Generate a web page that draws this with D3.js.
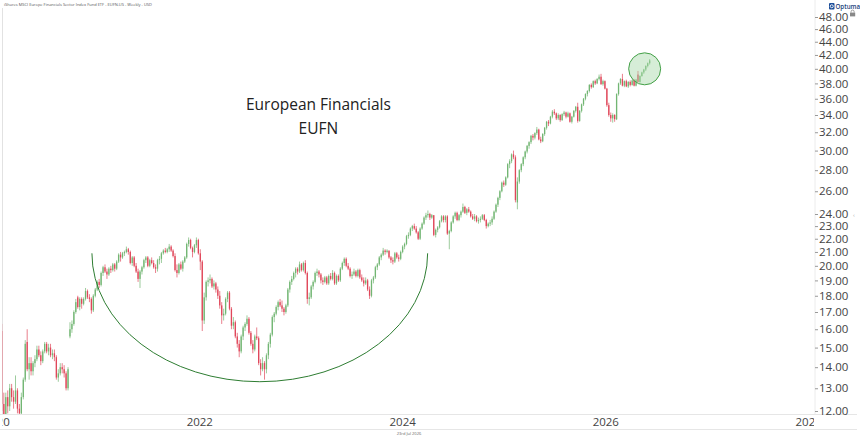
<!DOCTYPE html>
<html>
<head>
<meta charset="utf-8">
<script src="https://cdn.jsdelivr.net/npm/d3@7"></script>
<style>
  body { margin: 0; background: #fff; }
  svg { display: block; font-family: "Open Sans", sans-serif; }
</style>
</head>
<body>
<div id="chart"></div>
<script>
// weekly candles, first bar is the week of 2 Mar 2020
var firstWeek = "2020-03-02";

var opens = [
  17.0,15.9,12.3,11.1,12.6,12.2,13.0,12.6,12.4,12.9,
  12.1,11.9,12.6,13.4,15.3,13.9,14.2,13.8,14.2,14.4,
  14.9,14.6,14.3,14.8,15.2,14.8,15.0,14.6,14.7,14.5,
  13.5,13.7,14.0,13.9,13.7,13.0,15.6,16.0,16.3,17.0,
  17.9,17.3,17.8,17.5,17.8,18.3,17.9,17.8,17.1,18.0,
  18.4,18.9,18.7,19.5,19.9,19.6,19.4,19.8,19.7,20.1,
  19.8,20.3,20.8,20.6,20.9,21.0,21.2,21.0,20.2,20.6,
  20.0,19.6,19.1,19.6,19.9,20.4,20.6,20.0,20.4,20.2,
  19.9,19.8,20.4,20.5,20.9,21.1,21.0,21.2,21.4,21.1,
  20.7,19.7,19.5,20.1,19.8,20.3,20.6,21.6,21.9,21.3,
  21.0,21.5,21.9,20.9,20.3,16.5,17.9,18.9,19.0,19.1,
  18.6,18.8,18.4,18.0,17.4,16.8,16.9,17.8,18.2,17.2,
  16.2,16.4,15.6,15.2,14.8,15.6,16.1,16.3,16.6,15.8,
  15.2,14.9,15.6,15.5,14.2,13.9,14.2,13.9,14.6,15.2,
  15.7,16.7,16.9,17.3,17.6,17.4,17.2,17.0,17.4,18.4,
  18.9,19.1,19.5,19.8,19.6,20.1,19.7,20.2,19.5,17.8,
  17.9,18.6,18.9,19.5,19.6,19.4,19.0,18.9,19.2,18.8,
  19.3,19.1,19.5,18.8,19.3,19.0,19.8,20.2,20.5,20.0,
  19.8,19.3,19.4,19.6,19.3,19.7,19.2,19.0,18.8,19.0,
  18.4,18.0,19.0,19.2,19.9,20.1,20.6,20.8,21.1,21.0,
  21.1,20.6,20.4,20.3,20.9,20.6,20.5,21.0,21.4,21.6,
  22.2,22.3,22.8,23.0,22.8,22.5,22.0,22.8,23.2,23.7,
  23.9,24.0,23.7,23.9,22.3,22.7,22.9,23.4,23.8,23.5,
  23.8,22.4,22.6,23.3,23.8,24.1,23.5,23.9,24.2,24.6,
  24.1,24.4,24.2,23.8,23.6,23.8,23.4,23.5,23.6,23.9,
  23.5,23.0,23.2,23.3,23.6,24.2,24.8,25.4,26.0,26.8,
  26.6,27.3,28.6,28.9,29.6,29.3,25.0,26.9,28.0,28.6,
  29.3,29.9,30.5,30.9,31.6,31.4,31.9,32.3,31.2,31.0,
  31.8,32.5,33.2,33.0,33.8,34.4,34.2,33.6,34.0,33.4,
  34.1,34.3,33.8,34.2,33.2,33.8,34.5,35.0,33.3,34.5,
  35.3,36.0,36.6,37.0,37.8,37.5,38.3,38.0,38.6,38.9,
  37.9,38.3,37.3,35.2,34.0,33.6,34.0,33.5,36.6,38.0,
  38.6,37.7,38.3,37.6,38.2,37.8,38.4,37.7,39.2,38.2,
  39.0,39.5,39.9,40.4,40.8
];

var highs = [
  17.4,16.3,12.8,12.8,12.9,13.2,13.2,12.9,13.6,13.0,
  12.3,12.8,13.5,15.4,16.0,14.5,14.5,14.3,14.6,15.1,
  15.1,14.8,14.9,15.3,15.3,15.2,15.2,14.9,14.9,14.6,
  13.9,14.2,14.2,14.1,13.8,14.0,16.4,16.5,17.1,17.8,
  18.0,17.9,17.9,17.9,18.5,18.4,18.1,17.9,18.1,18.5,
  19.0,19.1,19.6,20.0,20.1,19.8,19.9,20.0,20.2,20.2,
  20.4,20.9,21.0,21.0,21.1,21.4,21.3,21.1,20.7,20.7,
  20.2,19.8,19.7,20.0,20.5,20.7,20.7,20.5,20.6,20.4,
  20.1,20.5,20.7,21.0,21.2,21.3,21.3,21.6,21.5,21.2,
  20.9,20.1,20.2,20.3,20.4,20.7,21.7,22.1,22.0,21.4,
  21.6,22.1,22.0,21.2,20.4,18.2,19.0,19.2,19.4,19.2,
  19.0,18.9,18.6,18.3,17.6,17.2,17.9,18.3,18.3,17.3,
  16.7,16.5,15.8,15.4,15.7,16.2,16.4,16.8,16.7,15.9,
  15.4,15.7,16.1,15.6,14.4,14.5,14.3,14.7,15.3,15.8,
  16.8,17.0,17.4,17.7,17.8,17.7,17.3,17.5,18.5,19.0,
  19.3,19.6,19.9,19.9,20.3,20.2,20.3,20.4,19.6,18.2,
  18.7,19.0,19.6,19.8,19.7,19.5,19.2,19.3,19.3,19.4,
  19.5,19.7,19.6,19.4,19.4,19.9,20.3,20.6,20.6,20.2,
  19.9,19.6,19.8,19.7,19.8,19.8,19.4,19.2,19.2,19.1,
  18.6,19.1,19.3,20.0,20.2,20.7,20.9,21.3,21.2,21.2,
  21.1,20.7,20.6,21.0,21.0,20.8,21.1,21.5,21.7,22.3,
  22.5,22.9,23.1,23.2,23.0,22.6,22.9,23.3,23.8,24.1,
  24.3,24.1,24.0,23.9,22.8,23.0,23.5,23.9,23.9,23.9,
  23.9,22.7,23.4,23.9,24.2,24.2,24.0,24.3,24.9,24.7,
  24.5,24.6,24.3,24.0,24.0,23.9,23.7,23.8,24.0,24.0,
  23.6,23.3,23.5,23.8,24.3,24.9,25.5,26.1,26.9,27.0,
  27.4,28.7,29.1,29.7,30.0,29.5,27.3,28.1,28.7,29.4,
  30.0,30.6,31.0,31.7,31.8,32.0,32.6,32.4,31.5,31.9,
  32.6,33.3,33.4,33.9,34.6,34.7,34.3,34.2,34.1,34.2,
  34.5,34.4,34.4,34.3,33.9,34.6,35.1,35.5,34.6,35.4,
  36.1,36.7,37.1,37.9,38.0,38.4,38.5,38.7,39.2,39.3,
  38.5,38.4,37.4,35.5,34.3,34.2,34.1,36.7,38.1,38.7,
  39.3,38.4,38.5,38.3,38.4,38.5,38.6,38.6,39.7,39.1,
  39.6,40.0,40.5,40.9,41.4
];

var lows = [
  15.6,12.0,10.6,10.9,11.9,12.0,12.4,12.1,12.3,11.9,
  11.5,11.8,12.5,13.3,13.8,13.4,13.6,13.6,14.0,14.3,
  14.5,14.1,14.2,14.7,14.7,14.6,14.5,14.4,14.3,13.4,
  13.3,13.6,13.7,13.5,12.9,12.9,15.5,15.8,16.2,16.9,
  17.2,17.1,17.2,17.4,17.7,17.8,17.6,16.9,17.0,17.9,
  18.3,18.5,18.6,19.3,19.5,19.1,19.3,19.5,19.6,19.6,
  19.7,20.2,20.3,20.5,20.7,20.9,20.8,20.1,20.0,19.9,
  19.5,18.9,18.5,19.4,19.8,20.2,19.9,19.9,20.1,19.8,
  19.5,19.6,20.1,20.2,20.8,20.9,20.9,21.0,21.0,20.6,
  19.6,19.2,19.4,19.7,19.6,20.2,20.5,21.4,21.2,20.6,
  20.9,21.3,20.8,19.7,15.9,16.3,17.7,18.6,18.8,18.5,
  18.4,18.2,17.8,17.2,16.3,16.5,16.8,17.6,17.1,16.0,
  16.0,15.5,15.0,14.5,14.7,15.4,15.9,16.2,15.7,15.1,
  14.7,14.8,15.4,14.1,13.6,13.8,13.4,13.7,14.4,15.0,
  15.6,16.4,16.8,17.1,17.3,17.0,16.8,16.9,17.3,18.2,
  18.7,19.0,19.2,19.4,19.5,19.6,19.6,19.4,17.5,17.4,
  17.8,18.4,18.8,19.3,19.2,18.8,18.7,18.8,18.7,18.7,
  19.0,19.0,18.7,18.7,18.9,18.9,19.7,20.0,19.9,19.7,
  19.2,19.1,19.3,19.2,19.2,19.1,18.9,18.6,18.7,18.3,
  17.8,17.9,18.8,19.1,19.7,20.0,20.4,20.7,20.8,20.9,
  20.5,20.2,20.1,20.2,20.5,20.3,20.4,20.9,21.2,21.5,
  22.0,22.2,22.6,22.7,22.4,21.9,21.9,22.7,23.1,23.5,
  23.7,23.5,23.6,22.2,22.1,22.5,22.8,23.3,23.3,23.3,
  22.3,21.2,22.5,23.2,23.6,23.4,23.4,23.7,24.1,24.0,
  23.9,24.1,23.7,23.5,23.4,23.3,23.2,23.3,23.5,23.4,
  22.8,22.9,23.0,23.1,23.5,24.1,24.6,25.2,25.9,26.4,
  26.5,27.2,28.2,28.7,29.1,25.0,24.4,26.7,27.8,28.4,
  29.1,29.7,30.2,30.7,31.1,31.2,31.7,31.1,30.8,30.9,
  31.6,32.3,32.7,32.9,33.6,34.0,33.4,33.4,33.2,33.3,
  33.9,33.6,33.7,33.1,33.0,33.7,34.3,33.1,33.2,34.3,
  35.1,35.8,36.3,36.8,37.3,37.4,37.8,37.9,38.4,37.8,
  37.7,37.2,35.0,33.8,33.2,33.1,33.2,33.4,36.4,37.8,
  37.6,37.5,37.5,37.4,37.6,37.7,37.6,37.6,38.1,38.1,
  38.9,39.3,39.7,40.2,40.6
];

var closes = [
  15.9,12.3,11.1,12.6,12.2,13.0,12.6,12.4,12.9,12.1,
  11.9,12.6,13.4,15.2,13.9,14.2,13.8,14.2,14.4,14.9,
  14.6,14.3,14.8,15.2,14.8,15.0,14.6,14.7,14.5,13.5,
  13.7,14.0,13.9,13.7,13.0,13.9,16.0,16.3,17.0,17.6,
  17.3,17.8,17.5,17.8,18.3,17.9,17.8,17.1,18.0,18.4,
  18.9,18.7,19.5,19.9,19.6,19.4,19.8,19.7,20.1,19.8,
  20.3,20.8,20.6,20.9,21.0,21.2,21.0,20.2,20.6,20.0,
  19.6,19.1,19.6,19.9,20.4,20.6,20.0,20.4,20.2,19.9,
  19.8,20.4,20.5,20.9,21.1,21.0,21.2,21.4,21.1,20.7,
  19.7,19.5,20.1,19.8,20.3,20.6,21.6,21.9,21.3,21.0,
  21.5,21.9,20.9,20.3,16.5,17.9,18.9,19.0,19.1,18.6,
  18.8,18.4,18.0,17.4,16.8,16.9,17.8,18.2,17.2,16.2,
  16.4,15.6,15.2,14.8,15.6,16.1,16.3,16.6,15.8,15.2,
  14.9,15.6,15.5,14.2,13.9,14.2,13.9,14.6,15.2,15.7,
  16.7,16.9,17.3,17.6,17.4,17.2,17.0,17.4,18.4,18.9,
  19.1,19.5,19.8,19.6,20.1,19.7,20.2,19.5,17.8,17.9,
  18.6,18.9,19.5,19.6,19.4,19.0,18.9,19.2,18.8,19.3,
  19.1,19.5,18.8,19.3,19.0,19.8,20.2,20.5,20.0,19.8,
  19.3,19.4,19.6,19.3,19.7,19.2,19.0,18.8,19.0,18.4,
  18.0,19.0,19.2,19.9,20.1,20.6,20.8,21.1,21.0,21.1,
  20.6,20.4,20.3,20.9,20.6,20.5,21.0,21.4,21.6,22.2,
  22.3,22.8,23.0,22.8,22.5,22.0,22.8,23.2,23.7,23.9,
  24.0,23.7,23.9,22.3,22.7,22.9,23.4,23.8,23.5,23.8,
  22.4,22.6,23.3,23.8,24.1,23.5,23.9,24.2,24.6,24.1,
  24.4,24.2,23.8,23.6,23.8,23.4,23.5,23.6,23.9,23.5,
  23.0,23.2,23.3,23.6,24.2,24.8,25.4,26.0,26.8,26.6,
  27.3,28.6,28.9,29.6,29.3,25.2,26.9,28.0,28.6,29.3,
  29.9,30.5,30.9,31.6,31.4,31.9,32.3,31.2,31.0,31.8,
  32.5,33.2,33.0,33.8,34.4,34.2,33.6,34.0,33.4,34.1,
  34.3,33.8,34.2,33.2,33.8,34.5,35.0,33.3,34.5,35.3,
  36.0,36.6,37.0,37.8,37.5,38.3,38.0,38.6,38.9,37.9,
  38.3,37.3,35.2,34.0,33.6,34.0,33.5,36.6,38.0,38.6,
  37.7,38.3,37.6,38.2,37.8,38.4,37.7,38.5,38.2,39.0,
  39.5,39.9,40.4,40.8,41.2
];

var priceTicks = [12,13,14,15,16,17,18,19,20,21,22,23,24,26,28,30,32,34,36,38,40,42,44,46,48];
var yearTicks = ["2020-01-01","2022-01-01","2024-01-01","2026-01-01","2028-01-01"];

var title = "iShares MSCI Europe Financials Sector Index Fund ETF - EUFN.US - Weekly - USD";
var labelLines = ["European Financials", "EUFN"];
var dateStamp = "23rd Jul 2026";

// annotation anchors in chart units (date, price)
var cupLeft = ["2021-01-27", 20.9];
var cupRight = ["2024-05-19", 20.9];
var cupBottom = 13.3;
var labelAt = ["2023-04-22", 34.6];
var circleAt = ["2026-07-09", 40.0];

var width = 860, height = 441;
var plotLeft = 2.5, plotRight = 815, plotTop = 8, plotBottom = 414;

var parse = d3.timeParse("%Y-%m-%d");

var x = d3.scaleTime()
  .domain([parse("2020-01-01"), parse("2028-01-01")])
  .range([-17, 795]);

var y = d3.scaleLog()
  .domain([12, 48])
  .range([411, 17]);

var candles = opens.map(function (o, i) {
  return {
    date: d3.timeDay.offset(parse(firstWeek), 7 * i),
    open: o, high: highs[i], low: lows[i], close: closes[i]
  };
});

var svg = d3.select("#chart")
  .append("svg")
  .attr("width", width)
  .attr("height", height);

var defs = svg.append("defs");
defs.append("clipPath").attr("id", "plotClip")
  .append("rect")
  .attr("x", plotLeft).attr("y", plotTop)
  .attr("width", plotRight - plotLeft).attr("height", plotBottom - plotTop);
defs.append("clipPath").attr("id", "xClip")
  .append("rect")
  .attr("x", plotLeft).attr("y", plotBottom)
  .attr("width", 814 - plotLeft).attr("height", 20);

// frame lines
svg.append("line")
  .attr("x1", plotLeft).attr("x2", plotLeft)
  .attr("y1", plotTop).attr("y2", plotBottom)
  .attr("stroke", "#e2e2e2");
svg.append("line")
  .attr("x1", plotRight).attr("x2", plotRight)
  .attr("y1", 0).attr("y2", plotBottom)
  .attr("stroke", "#ececec");
svg.append("line")
  .attr("x1", 0).attr("x2", 857)
  .attr("y1", plotBottom + 0.5).attr("y2", plotBottom + 0.5)
  .attr("stroke", "#e6e6e6");
svg.append("line")
  .attr("x1", 0).attr("x2", 857)
  .attr("y1", 429.5).attr("y2", 429.5)
  .attr("stroke", "#e6e6e6");

// title
svg.append("text")
  .attr("x", 4).attr("y", 6)
  .style("font-size", "4px")
  .style("fill", "#555")
  .text(title);

// candles
var plot = svg.append("g").attr("clip-path", "url(#plotClip)");
var up = "#72b673", down = "#e0475a";

var bars = plot.selectAll(".candle")
  .data(candles)
  .enter()
  .append("g")
  .classed("candle", true)
  .attr("transform", function (d) { return "translate(" + x(d.date) + ",0)"; });

bars.append("line")
  .attr("x1", 0).attr("x2", 0)
  .attr("y1", function (d) { return y(d.high); })
  .attr("y2", function (d) { return y(d.low); })
  .attr("stroke", function (d) { return d.close >= d.open ? up : down; })
  .attr("stroke-width", 0.7);

bars.append("rect")
  .attr("x", -0.65)
  .attr("width", 1.3)
  .attr("y", function (d) { return y(Math.max(d.open, d.close)); })
  .attr("height", function (d) {
    return Math.max(0.8, y(Math.min(d.open, d.close)) - y(Math.max(d.open, d.close)));
  })
  .attr("fill", function (d) { return d.close >= d.open ? up : down; });

// cup arc
var xl = x(parse(cupLeft[0])), xr = x(parse(cupRight[0]));
var yTop = y(cupLeft[1]);
var rx = (xr - xl) / 2, ry = y(cupBottom) - yTop;
plot.append("path")
  .attr("d", "M" + xl + "," + yTop + " A" + rx + "," + ry + " 0 0 0 " + xr + "," + y(cupRight[1]))
  .attr("fill", "none")
  .attr("stroke", "#2e7d32")
  .attr("stroke-width", 1);

// highlight circle
plot.append("circle")
  .attr("cx", x(parse(circleAt[0])))
  .attr("cy", y(circleAt[1]))
  .attr("r", 16)
  .attr("fill", "#a5d6a7")
  .attr("fill-opacity", 0.45)
  .attr("stroke", "#43a047")
  .attr("stroke-width", 1);

// label
var label = svg.append("text")
  .attr("x", x(parse(labelAt[0])))
  .attr("y", y(labelAt[1]))
  .attr("text-anchor", "middle")
  .style("font-size", "15.5px")
  .style("fill", "#222");
label.selectAll("tspan")
  .data(labelLines)
  .enter()
  .append("tspan")
  .attr("x", x(parse(labelAt[0])))
  .attr("dy", function (d, i) { return i === 0 ? 0 : 24; })
  .text(function (d) { return d; });

// price axis
var yAxis = svg.append("g")
  .attr("transform", "translate(" + plotRight + ",0)")
  .call(d3.axisRight(y)
    .tickValues(priceTicks)
    .tickFormat(d3.format(".2f"))
    .tickSize(3)
    .tickPadding(1));
yAxis.select(".domain").remove();
yAxis.selectAll("line").attr("stroke", "#999");
yAxis.selectAll("text")
  .style("font-size", "11.5px")
  .style("fill", "#444")
  .style("font-family", "'Open Sans', sans-serif");

// year axis
var xAxis = svg.append("g")
  .attr("clip-path", "url(#xClip)")
  .append("g")
  .attr("transform", "translate(0," + plotBottom + ")")
  .call(d3.axisBottom(x)
    .tickValues(yearTicks.map(parse))
    .tickFormat(d3.timeFormat("%Y"))
    .tickSize(0)
    .tickPadding(4));
xAxis.select(".domain").remove();
xAxis.selectAll("text")
  .attr("text-anchor", "start")
  .style("font-size", "11.5px")
  .style("fill", "#444")
  .style("font-family", "'Open Sans', sans-serif");

// date stamp
svg.append("text")
  .attr("x", 409).attr("y", 435)
  .attr("text-anchor", "middle")
  .style("font-size", "4px")
  .style("fill", "#666")
  .text(dateStamp);

// logo
var logo = svg.append("g").attr("transform", "translate(829,3)");
logo.append("rect")
  .attr("width", 5.5).attr("height", 6.5).attr("rx", 1)
  .attr("fill", "#1d4f9a");
logo.append("circle")
  .attr("cx", 2.75).attr("cy", 3.25).attr("r", 1.5)
  .attr("fill", "none").attr("stroke", "#fff").attr("stroke-width", 0.9);
logo.append("text")
  .attr("x", 6.5).attr("y", 6.2)
  .style("font-size", "6.2px")
  .style("font-weight", "600")
  .style("fill", "#1d3f7a")
  .text("Optuma");

// lock icon
var lock = svg.append("g").attr("transform", "translate(850,10)");
lock.append("path")
  .attr("d", "M1.1,2.6 V1.6 A1.5,1.5 0 0 1 4.1,1.6 V2.6")
  .attr("fill", "none").attr("stroke", "#888").attr("stroke-width", 0.8);
lock.append("rect")
  .attr("x", 0).attr("y", 2.6).attr("width", 5.2).attr("height", 3.8)
  .attr("fill", "#888");

// collapse marker
svg.append("text")
  .attr("x", 853).attr("y", 217)
  .style("font-size", "6px")
  .style("fill", "#aaa")
  .text("‹");
</script>
</body>
</html>
